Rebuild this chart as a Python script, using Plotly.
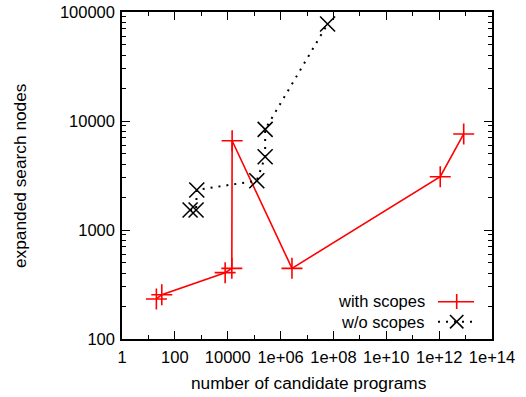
import plotly.graph_objects as go

# with scopes
with_x = [20, 32, 8000, 14300, 14700, 2.7e6, 1.1e12, 8.5e12]
with_y = [233, 255, 406, 445, 6590, 445, 3080, 7600]
# w/o scopes
wo_x = [377, 635, 675, 126000, 261000, 261000, 6e7]
wo_y = [1525, 1525, 2330, 2833, 4700, 8390, 77600]

x_tickvals = [1, 1e2, 1e4, 1e6, 1e8, 1e10, 1e12, 1e14]
x_ticktext = ["1", "100", "10000", "1e+06", "1e+08", "1e+10", "1e+12", "1e+14"]
y_tickvals = [100, 1000, 10000, 100000]
y_ticktext = ["100", "1000", "10000", "100000"]

FONT = "Liberation Sans, Arial, sans-serif"
TICK_SIZE = 16.5
TITLE_SIZE = 17.3
DOTS = "2px,6px"

L, R, T, B = 122, 492, 12, 339
W, H = R - L, B - T

fig = go.Figure()
fig.add_trace(go.Scatter(
    x=with_x, y=with_y, mode="lines+markers", name="with scopes",
    line=dict(color="#ff0000", width=1.6),
    marker=dict(symbol="cross-thin", size=15, line=dict(color="#ff0000", width=1.6)),
))
fig.add_trace(go.Scatter(
    x=wo_x, y=wo_y, mode="lines+markers", name="w/o scopes",
    line=dict(color="black", width=2, dash=DOTS),
    marker=dict(symbol="x-thin", size=15, line=dict(color="black", width=1.6)),
))

axis_common = dict(
    showline=True, linecolor="black", linewidth=1.5, mirror="allticks",
    ticks="inside", tickcolor="black", tickwidth=1, showgrid=False, zeroline=False,
    tickfont=dict(family=FONT, size=TICK_SIZE, color="black"),
    automargin=False,
)
fig.update_xaxes(type="log", range=[0, 14], tickvals=x_tickvals, ticktext=x_ticktext,
                 ticklen=8, ticklabelstandoff=2,
                 minor=dict(dtick=1, ticks="inside", ticklen=4, tickcolor="black", showgrid=False),
                 **axis_common)
fig.update_yaxes(type="log", range=[2, 5], tickvals=y_tickvals, ticktext=y_ticktext,
                 ticklen=8, ticklabelstandoff=2,
                 minor=dict(dtick="D1", ticks="inside", ticklen=4, tickcolor="black", showgrid=False),
                 **axis_common)

def px(x):
    return (x - L) / W

def py(y):
    return (B - y) / H

# axis titles as annotations for exact placement
fig.add_annotation(xref="paper", yref="paper", x=px(309), y=py(383),
                   text="number of candidate programs", showarrow=False,
                   xanchor="center", yanchor="middle",
                   font=dict(family=FONT, size=TITLE_SIZE, color="black"))
fig.add_annotation(xref="paper", yref="paper", x=px(20), y=py(176),
                   text="expanded search nodes", showarrow=False, textangle=-90,
                   xanchor="center", yanchor="middle",
                   font=dict(family=FONT, size=TITLE_SIZE, color="black"))

# legend (gnuplot style: text on the left, sample on the right)
fig.add_annotation(xref="paper", yref="paper", x=px(427), y=py(301),
                   text="with scopes", showarrow=False, xanchor="right", yanchor="middle",
                   font=dict(family=FONT, size=TICK_SIZE, color="black"))
fig.add_annotation(xref="paper", yref="paper", x=px(427), y=py(322),
                   text="w/o scopes", showarrow=False, xanchor="right", yanchor="middle",
                   font=dict(family=FONT, size=TICK_SIZE, color="black"))

fig.add_shape(type="line", xref="paper", yref="paper", x0=px(438), x1=px(474), y0=py(301.7), y1=py(301.7),
              line=dict(color="#ff0000", width=1.6))
fig.add_shape(type="line", xref="paper", yref="paper", x0=px(456.7), x1=px(456.7), y0=py(294), y1=py(309),
              line=dict(color="#ff0000", width=1.6))
fig.add_shape(type="line", xref="paper", yref="paper", x0=px(438), x1=px(474), y0=py(321.7), y1=py(321.7),
              line=dict(color="black", width=2, dash=DOTS))
fig.add_shape(type="line", xref="paper", yref="paper", x0=px(450), x1=px(463.4), y0=py(315), y1=py(328.4),
              line=dict(color="black", width=1.6))
fig.add_shape(type="line", xref="paper", yref="paper", x0=px(450), x1=px(463.4), y0=py(328.4), y1=py(315),
              line=dict(color="black", width=1.6))

fig.update_layout(
    width=526, height=397,
    margin=dict(l=L, r=526 - R, t=T, b=397 - B),
    plot_bgcolor="white", paper_bgcolor="white",
    showlegend=False,
    font=dict(family=FONT, color="black"),
)

fig.write_html("out.html", config={"displayModeBar": False},
               post_script="document.body.style.margin='0';document.body.style.overflow='hidden';")
